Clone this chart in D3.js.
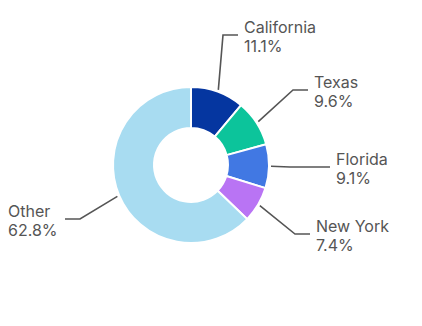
<!DOCTYPE html>
<html>
<head>
<meta charset="utf-8">
<script src="https://cdn.jsdelivr.net/npm/d3@7"></script>
<style>
  body { margin: 0; background: #fff; }
  text { font-family: Inter, Lato, sans-serif; font-size: 16px; fill: #555; }
</style>
</head>
<body>
<div id="chart"></div>
<script>
// Share of total by state (%)
const states = ['California', 'Texas', 'Florida', 'New York', 'Other'];
const shares = [11.1, 9.6, 9.1, 7.4, 62.8];
const colors = ['#0536a0', '#0cc49b', '#4178e3', '#b974f4', '#a8dcf1'];

// Label placement (line y, elbow x, line end x, text x, anchor)
const labelLayout = [
    { y: 35, elbowX: 223, endX: 238, textX: 244, anchor: 'start' },
    { y: 90, elbowX: 293, endX: 308, textX: 314, anchor: 'start' },
    { y: 167, elbowX: 290, endX: 330, textX: 336, anchor: 'start' },
    { y: 234, elbowX: 295, endX: 310, textX: 316, anchor: 'start' },
    { y: 219, elbowX: 80, endX: 65, textX: 8, anchor: 'start' }
];

const width = 422;
const height = 326;
const cx = 191;
const cy = 165;
const outerR = 78;
const innerR = 37;

const data = states.map((s, i) => ({ state: s, share: shares[i], i: i }));

const svg = d3.select('#chart')
    .append('svg')
    .attr('width', width)
    .attr('height', height);

const g = svg.append('g')
    .attr('transform', `translate(${cx},${cy})`);

const pie = d3.pie()
    .sort(null)
    .value(d => d.share);

const arc = d3.arc()
    .innerRadius(innerR)
    .outerRadius(outerR);

const arcs = pie(data);

// Slices
g.selectAll('path.slice')
    .data(arcs)
    .enter()
    .append('path')
    .attr('class', 'slice')
    .attr('d', arc)
    .attr('fill', d => colors[d.data.i])
    .attr('stroke', '#fff')
    .attr('stroke-width', 2);

// Leader lines
const lineStart = d => {
    const a = (d.startAngle + d.endAngle) / 2;
    return [cx + Math.sin(a) * 80, cy - Math.cos(a) * 80];
};

svg.selectAll('polyline.leader')
    .data(arcs)
    .enter()
    .append('polyline')
    .attr('class', 'leader')
    .attr('points', d => {
        const L = labelLayout[d.data.i];
        const p = lineStart(d);
        return [p, [L.elbowX, L.y], [L.endX, L.y]].map(q => q.join(',')).join(' ');
    })
    .attr('fill', 'none')
    .attr('stroke', '#555')
    .attr('stroke-width', 1.6);

// Labels
const labels = svg.selectAll('text.label')
    .data(arcs)
    .enter()
    .append('text')
    .attr('class', 'label')
    .attr('text-anchor', d => labelLayout[d.data.i].anchor);

labels.append('tspan')
    .attr('x', d => labelLayout[d.data.i].textX)
    .attr('y', d => labelLayout[d.data.i].y - 2)
    .text(d => d.data.state);

labels.append('tspan')
    .attr('x', d => labelLayout[d.data.i].textX)
    .attr('y', d => labelLayout[d.data.i].y + 17)
    .text(d => d3.format('.1f')(d.data.share) + '%');
</script>
</body>
</html>
